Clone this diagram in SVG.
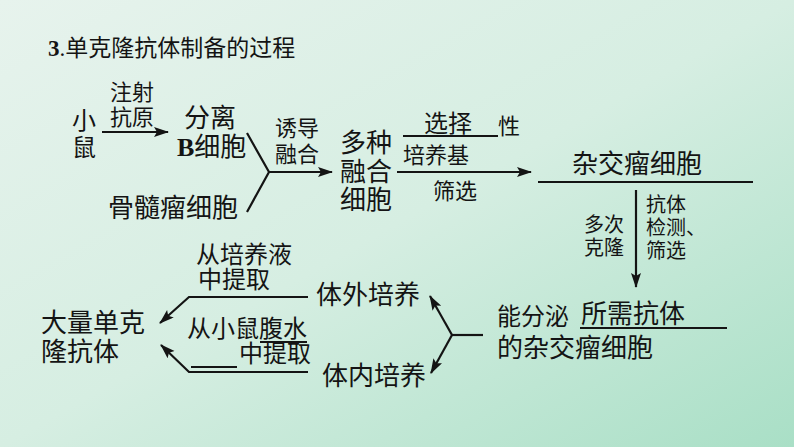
<svg xmlns="http://www.w3.org/2000/svg" width="794" height="447" viewBox="0 0 794 447">
<style>
text{font-family:"Liberation Serif","Noto Sans CJK SC",serif;fill:#141414;dominant-baseline:central}
.t{font-size:23px}
.l{font-size:26px}
.m{font-size:24px}
.s{font-size:22px}
.xs{font-size:20px}
.ln{stroke:#141414;stroke-width:2.2;fill:none}
.ar{stroke:#141414;stroke-width:2.2;fill:none;marker-end:url(#ah)}
</style>
<defs>
<linearGradient id="bg" x1="0" y1="0" x2="1" y2="1">
<stop offset="0" stop-color="#e7f3ed"/>
<stop offset="0.5" stop-color="#d6eee2"/>
<stop offset="1" stop-color="#a9dfc6"/>
</linearGradient>
<marker id="ah" markerUnits="userSpaceOnUse" markerWidth="16" markerHeight="12" refX="14" refY="5" orient="auto">
<path d="M0,0 L15,5 L0,10 L3,5 Z" fill="#141414"/>
</marker>
</defs>
<rect width="794" height="447" fill="url(#bg)"/>

<g id="title"><text class="t" x="48" y="48"><tspan font-weight="bold">3</tspan>.单克隆抗体制备的过程</text></g>

<g id="mouse"><text class="m" x="72" y="121">小</text><text class="m" x="72" y="148">鼠</text></g>
<g id="inject"><text class="s" x="110" y="92">注射</text><text class="s" x="110" y="117">抗原</text></g>
<g id="bcell"><text class="l" x="184" y="118">分离</text><text class="l" x="177" y="147"><tspan font-weight="bold">B</tspan>细胞</text></g>
<g id="myeloma"><text class="l" x="108" y="208">骨髓瘤细胞</text></g>
<g id="induce"><text class="s" x="275" y="128">诱导</text><text class="s" x="275" y="154">融合</text></g>
<g id="fused"><text class="l" x="340" y="143">多种</text><text class="l" x="340" y="172">融合</text><text class="l" x="340" y="200">细胞</text></g>
<g id="select"><text class="m" x="424" y="124">选择</text><text class="s" x="498" y="126">性</text><text class="s" x="403" y="155">培养基</text><text class="s" x="433" y="191">筛选</text></g>
<g id="hybridoma"><text class="l" x="572" y="164">杂交瘤细胞</text></g>
<g id="clone"><text class="xs" x="584" y="225">多次</text><text class="xs" x="584" y="248">克隆</text><text class="xs" x="646" y="205">抗体</text><text class="xs" x="646" y="228">检测、</text><text class="xs" x="646" y="251">筛选</text></g>
<g id="secrete"><text class="m" x="497" y="317">能分泌</text><text class="l" x="581" y="314">所需抗体</text><text class="l" x="497" y="348">的杂交瘤细胞</text></g>
<g id="invitro"><text class="l" x="316" y="295">体外培养</text></g>
<g id="invivo"><text class="l" x="322" y="376">体内培养</text></g>
<g id="mab"><text class="l" x="41" y="323">大量单克</text><text class="l" x="41" y="352">隆抗体</text></g>
<g id="extract1"><text class="m" x="196" y="255">从培养液</text><text class="m" x="198" y="280">中提取</text></g>
<g id="extract2"><text class="m" x="187" y="329">从小鼠腹水</text><text class="m" x="239" y="354">中提取</text></g>

<g id="connectors">
<line class="ar" x1="102" y1="132" x2="168" y2="132"/>
<polyline class="ln" points="247,133 269,172 247,212"/>
<line class="ar" x1="269" y1="172" x2="332" y2="172"/>
<line class="ln" x1="403" y1="136" x2="498" y2="136"/>
<line class="ar" x1="397" y1="172" x2="531" y2="172"/>
<line class="ln" x1="538" y1="182" x2="753" y2="182"/>
<line class="ar" x1="636" y1="190" x2="636" y2="287"/>
<line class="ln" x1="580" y1="328" x2="727" y2="328"/>
<line class="ln" x1="452" y1="335" x2="483" y2="335"/>
<line class="ar" x1="452" y1="335" x2="430" y2="296"/>
<line class="ar" x1="452" y1="335" x2="431" y2="373"/>
<polyline class="ar" points="308,297 189,297 160,323"/>
<polyline class="ar" points="308,372 189,372 161,345"/>
<line class="ln" x1="260" y1="342" x2="307" y2="342"/>
<line class="ln" x1="191" y1="367" x2="237" y2="367"/>
</g>
</svg>
